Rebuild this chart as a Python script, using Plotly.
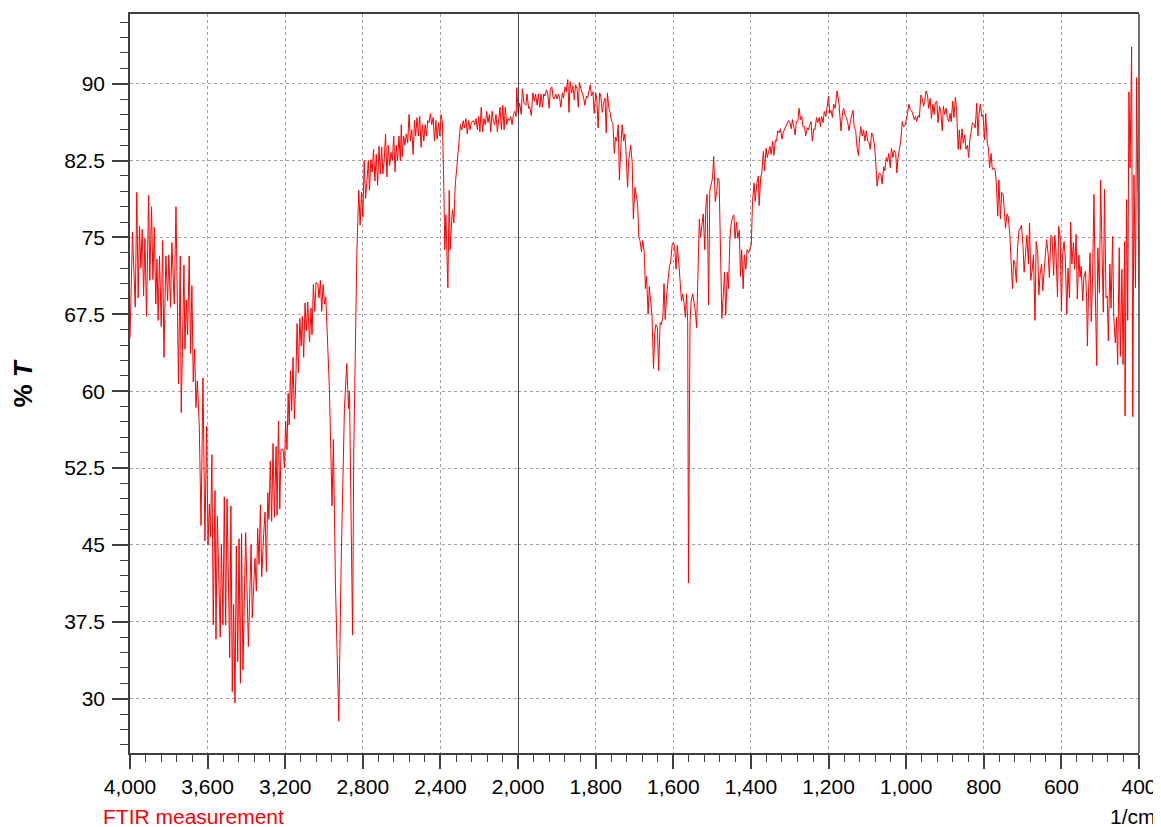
import plotly.graph_objects as go

# ---- FTIR spectrum (wavenumber in 1/cm, %T) ----
wn_oh = [
    4000, 3987, 3973, 3965, 3958, 3951, 3944, 3937, 3930, 3923,
    3915, 3904, 3898, 3889, 3882, 3875, 3867, 3861, 3855, 3848,
    3839, 3832, 3825, 3815, 3806, 3800, 3791, 3784, 3772, 3763,
    3750, 3741, 3736, 3722, 3717, 3710, 3703, 3695, 3688, 3681,
    3674, 3667, 3660, 3653, 3643, 3634, 3624, 3614, 3605, 3598,
    3591, 3585, 3578, 3571, 3562, 3557, 3550, 3535, 3529, 3521,
    3514, 3507, 3500, 3486, 3480, 3473, 3466, 3459, 3452, 3445,
    3438, 3431, 3425, 3418, 3404, 3390, 3376, 3370, 3356, 3349,
    3342, 3335, 3328, 3321, 3311, 3304, 3297, 3290, 3284, 3277,
    3270, 3263, 3256, 3247, 3242, 3235, 3228, 3222, 3211, 3204,
    3198, 3191, 3185, 3180, 3173, 3167, 3160, 3153, 3146, 3139,
    3132, 3125, 3118, 3112, 3105, 3098, 3091, 3084, 3075, 3067,
    3062, 3055, 3048, 3041, 3032, 3026, 3019, 3012, 3005, 2998,
]
t_oh = [
    65.2, 75.5, 68.2, 79.4, 69.1, 76.1, 72.0, 75.8, 69.3, 74.9,
    67.3, 79.1, 70.8, 78.0, 70.9, 76.0, 68.5, 72.9, 66.9, 73.2,
    66.3, 74.7, 63.3, 73.2, 68.8, 73.3, 68.2, 74.5, 68.5, 78.0,
    60.7, 73.2, 57.9, 72.3, 64.1, 68.9, 65.5, 73.2, 63.7, 70.3,
    60.9, 64.1, 58.4, 61.0, 56.6, 46.9, 61.3, 45.4, 56.6, 45.0,
    49.0, 45.8, 53.8, 37.2, 50.3, 35.8, 47.8, 36.0, 45.0, 37.2,
    49.7, 37.2, 49.5, 34.0, 48.8, 30.7, 39.2, 29.6, 44.9, 33.6,
    45.6, 31.5, 46.1, 32.8, 46.2, 35.1, 45.0, 37.9, 43.7, 40.5,
    46.6, 43.1, 48.9, 41.9, 46.1, 48.2, 42.4, 50.1, 47.5, 53.2,
    47.3, 54.9, 47.7, 54.6, 47.9, 57.1, 48.5, 54.3, 54.3, 52.5,
    57.1, 54.3, 59.8, 56.7, 62.0, 58.1, 63.3, 57.3, 60.7, 66.6,
    61.8, 67.1, 64.4, 67.3, 63.3, 68.6, 65.9, 68.7, 64.8, 68.1,
    65.5, 70.4, 67.8, 70.6, 70.5, 69.1, 70.8, 67.8, 70.4, 68.5,
]

wn_ch = [2991, 2972, 2959, 2952, 2941, 2924, 2912, 2895, 2883, 2874,
         2869, 2860, 2853, 2847, 2838, 2831, 2821, 2814, 2807, 2800]
t_ch = [69.2, 60.0, 48.8, 55.3, 40.9, 27.8, 43.1, 58.3, 62.7, 58.3,
        60.0, 45.2, 36.2, 54.0, 67.0, 73.5, 79.6, 76.2, 79.4, 77.0]

wn_mid = [
    2793, 2786, 2779, 2772, 2766, 2759, 2752, 2745, 2738, 2731,
    2724, 2717, 2710, 2703, 2697, 2690, 2683, 2676, 2669, 2662,
    2655, 2648, 2641, 2634, 2628, 2621, 2614, 2607, 2602, 2597,
    2590, 2583, 2576, 2569, 2562, 2555, 2548, 2541, 2534, 2528,
    2521, 2514, 2507, 2500, 2493, 2486, 2479, 2472, 2466, 2459,
    2452, 2445, 2438, 2431, 2424, 2417, 2410, 2403, 2397, 2390,
    2383, 2378, 2372, 2367, 2362, 2355, 2350, 2343, 2338, 2331,
    2324, 2317, 2310, 2303, 2297, 2290, 2283, 2276, 2269, 2262,
    2255, 2248, 2241, 2231, 2224, 2217, 2210, 2203, 2197, 2190,
    2183, 2176, 2169, 2162, 2155, 2148, 2141, 2134, 2128, 2121,
    2114, 2107, 2100, 2093, 2086, 2079, 2072, 2066, 2059, 2052,
    2045, 2038, 2031, 2024, 2017, 2010, 2007,
]
t_mid = [
    82.5, 78.8, 80.5, 82.5, 79.6, 82.6, 81.4, 83.6, 80.5, 83.1,
    80.1, 83.9, 81.2, 83.8, 81.2, 82.5, 85.1, 80.9, 84.0, 82.0,
    83.3, 82.5, 84.9, 81.4, 84.0, 82.5, 84.9, 82.5, 86.0, 82.9,
    84.9, 84.0, 85.1, 84.2, 87.0, 84.4, 85.5, 83.1, 86.4, 84.9,
    86.7, 84.9, 86.8, 83.8, 86.0, 84.4, 86.0, 84.9, 86.4, 86.2,
    87.1, 86.0, 86.7, 84.4, 86.4, 84.6, 86.2, 84.9, 87.0, 86.2,
    80.1, 73.8, 77.2, 73.8, 70.1, 79.6, 73.8, 76.4, 77.7, 76.4,
    80.1, 81.6, 83.3, 85.3, 86.0, 85.5, 86.4, 85.7, 86.6, 85.1,
    86.4, 85.5, 86.2, 86.4, 86.0, 86.6, 85.5, 86.8, 85.3, 87.7,
    85.3, 86.6, 86.0, 87.3, 86.2, 87.0, 85.3, 87.3, 86.4, 86.0,
    87.0, 85.3, 86.6, 87.7, 85.5, 87.9, 85.5, 87.7, 86.0, 86.6,
    86.4, 86.8, 86.0, 87.0, 87.3, 86.8, 89.6,
]

wn_db = [
    2000, 1996, 1992, 1989, 1985, 1980, 1977, 1973, 1970, 1966,
    1962, 1958, 1955, 1951, 1948, 1944, 1941, 1937, 1934, 1931,
    1927, 1924, 1920, 1917, 1913, 1910, 1907, 1903, 1900, 1896,
    1893, 1890, 1886, 1883, 1879, 1876, 1872, 1869, 1866, 1862,
    1859, 1855, 1852, 1848, 1845, 1842, 1838, 1835, 1831, 1828,
    1824, 1821, 1818, 1814, 1811, 1807, 1804, 1800, 1797, 1794,
    1790, 1787, 1783, 1780, 1776, 1773, 1770, 1766, 1763, 1759,
    1756, 1752, 1749, 1746, 1742, 1739, 1735, 1732, 1728, 1725,
    1722, 1718, 1715, 1710, 1706, 1703, 1699, 1696, 1692, 1689,
    1686, 1682, 1679, 1675, 1672, 1669, 1665, 1662, 1658, 1655,
    1651, 1648, 1645, 1641, 1638, 1634, 1631, 1627, 1624, 1621,
    1617, 1614, 1610, 1607, 1603, 1600, 1597, 1593, 1590, 1586,
    1583, 1579, 1576, 1573, 1569, 1566, 1563, 1561, 1557, 1554,
    1550, 1547, 1543, 1540, 1537, 1533, 1530, 1526, 1523, 1519,
    1516, 1513, 1509, 1506, 1502, 1499, 1496, 1492, 1489, 1485,
    1482, 1478, 1475, 1471, 1468, 1465, 1461, 1458, 1454, 1451,
    1448, 1444, 1441, 1437, 1434, 1430, 1427, 1424, 1420, 1417,
    1413, 1410, 1406,
]
t_db = [
    87.2, 88.1, 87.0, 89.5, 88.1, 87.9, 89.0, 87.6, 87.7, 86.9,
    89.1, 88.3, 89.0, 87.9, 89.0, 87.7, 89.0, 87.7, 89.0, 88.8,
    89.4, 89.1, 87.6, 89.5, 89.7, 88.7, 88.5, 89.0, 88.5, 89.0,
    88.6, 87.7, 89.1, 88.6, 89.7, 89.2, 90.4, 87.2, 90.2, 89.1,
    89.8, 88.4, 89.9, 89.5, 87.7, 90.1, 89.5, 89.1, 88.6, 87.9,
    88.8, 88.6, 89.3, 89.9, 88.8, 89.2, 87.1, 89.1, 88.4, 85.7,
    89.1, 88.8, 87.2, 88.1, 88.6, 85.2, 89.1, 87.6, 87.2, 86.3,
    86.2, 83.2, 84.8, 84.4, 86.0, 80.6, 84.1, 86.0, 84.4, 85.1,
    83.4, 79.9, 82.5, 84.0, 82.3, 76.8, 79.9, 79.2, 78.2, 75.0,
    74.7, 73.6, 74.7, 73.6, 70.0, 71.2, 67.5, 70.2, 68.8, 67.4,
    62.2, 65.6, 66.5, 66.2, 62.0, 66.7, 66.5, 67.2, 70.5, 67.0,
    69.5, 70.9, 72.2, 72.6, 74.3, 74.5, 74.2, 71.9, 74.2, 72.6,
    70.9, 68.8, 69.5, 68.8, 67.2, 69.5, 66.7, 41.3, 66.7, 68.8,
    69.5, 68.8, 67.7, 66.2, 72.2, 76.8, 75.0, 76.4, 77.3, 73.8,
    78.2, 79.2, 68.4, 79.6, 80.3, 80.8, 82.9, 78.5, 79.2, 80.8,
    80.6, 74.2, 67.1, 69.5, 71.6, 67.4, 71.6, 70.0, 75.0, 76.3,
    76.9, 77.2, 74.9, 76.5, 74.9, 75.7, 71.2, 73.8, 70.0, 73.3,
    71.9, 73.8, 73.5,
]

wn_fp = [
    1399, 1396, 1392, 1389, 1385, 1381, 1379, 1375, 1372, 1368,
    1365, 1361, 1358, 1355, 1351, 1348, 1344, 1341, 1337, 1334,
    1331, 1327, 1324, 1320, 1317, 1313, 1310, 1307, 1303, 1300,
    1296, 1293, 1290, 1286, 1283, 1279, 1276, 1272, 1269, 1266,
    1262, 1259, 1255, 1252, 1248, 1245, 1242, 1238, 1235, 1231,
    1228, 1224, 1221, 1218, 1214, 1211, 1207, 1204, 1200, 1197,
    1194, 1190, 1187, 1183, 1178, 1173, 1168, 1164, 1161, 1158,
    1154, 1151, 1147, 1144, 1140, 1137, 1134, 1130, 1127, 1123,
    1120, 1117, 1113, 1110, 1106, 1103, 1099, 1096, 1093, 1089,
    1086, 1082, 1079, 1075, 1072, 1069, 1065, 1062, 1058, 1055,
    1051, 1048, 1045, 1041, 1038, 1034, 1031, 1027, 1024, 1021,
    1017, 1014, 1010, 1007, 1003, 1000, 997, 993, 990, 986,
    983, 979, 976, 973, 969, 966, 962, 959, 955, 952,
    949, 945, 942, 938, 935, 931, 928, 925, 921, 918,
    914, 911, 907, 904, 901, 897, 894, 890, 887, 884,
    880, 877, 873, 870, 866, 863, 860, 856, 853, 849,
    846, 842, 839, 836, 832, 829, 825, 822,
]
t_fp = [
    74.3, 78.5, 80.3, 78.5, 80.2, 81.0, 78.1, 80.8, 81.3, 83.4,
    81.5, 83.7, 82.8, 83.4, 83.9, 83.1, 84.4, 83.0, 84.5, 84.4,
    85.4, 85.2, 85.6, 84.6, 85.2, 85.6, 85.9, 86.1, 86.4, 86.3,
    85.6, 86.5, 85.8, 85.0, 86.3, 86.3, 87.6, 86.5, 86.8, 85.8,
    85.8, 84.9, 85.7, 85.5, 86.0, 86.3, 84.4, 85.6, 85.5, 86.7,
    86.2, 86.7, 85.8, 86.8, 86.2, 87.3, 86.8, 87.6, 88.8, 87.1,
    87.4, 86.7, 88.0, 87.6, 89.3, 88.0, 85.4, 87.2, 87.6, 87.0,
    86.7, 86.3, 85.4, 86.3, 86.8, 87.4, 85.8, 85.4, 83.9, 83.0,
    84.7, 85.8, 84.9, 85.5, 84.4, 85.4, 84.4, 84.3, 83.6, 85.2,
    85.0, 84.1, 82.8, 80.0, 80.8, 81.3, 81.1, 80.2, 81.9, 81.5,
    82.8, 82.4, 83.2, 81.8, 83.7, 82.8, 83.5, 83.2, 81.3, 82.8,
    83.7, 84.4, 86.3, 85.8, 85.9, 86.7, 87.0, 88.0, 87.5, 87.4,
    87.0, 86.5, 86.8, 86.3, 86.9, 86.7, 88.9, 88.6, 87.8, 88.3,
    89.3, 88.9, 87.6, 88.6, 86.6, 88.0, 87.0, 88.2, 88.3, 86.2,
    87.8, 87.3, 85.4, 87.8, 87.0, 87.6, 86.7, 86.3, 87.1, 86.3,
    88.3, 86.7, 88.7, 87.3, 83.6, 85.5, 83.6, 85.6, 84.2, 85.0,
    83.6, 84.0, 82.8, 84.5, 85.4, 86.2, 86.0, 85.7,
]

wn_low = [
    818, 815, 812, 809, 805, 802, 798, 795, 791, 788,
    785, 781, 778, 774, 771, 768, 764, 761, 757, 754,
    750, 747, 744, 740, 737, 733, 730, 726, 723, 720,
    716, 713, 709, 706, 703, 699, 696, 692, 689, 685,
    682, 679, 675, 672, 668, 665, 661, 658, 655, 651,
    648, 644, 641, 638, 634, 631, 627, 624, 620, 617,
    614, 610, 607, 603, 600, 597, 593, 590, 586, 583,
    579, 576, 573, 569, 566, 562, 559, 555, 552, 549,
    545, 542, 538, 535, 533, 530, 526, 523, 520, 516,
    513, 509, 506, 502, 499, 496, 492, 489, 485, 482,
    479, 475, 472, 468, 465, 461, 458, 455, 451, 448,
    444, 441, 437, 436, 432, 429, 426, 423, 419, 416,
    413, 409, 406, 403, 400,
]
t_low = [
    88.1, 84.9, 87.1, 88.0, 86.8, 87.0, 84.5, 87.1, 84.2, 83.7,
    81.8, 83.2, 81.6, 81.8, 81.6, 80.5, 77.1, 80.6, 76.8, 79.4,
    79.2, 76.9, 75.9, 77.3, 77.0, 75.3, 72.7, 70.0, 72.8, 72.5,
    70.6, 74.0, 75.8, 75.8, 76.2, 74.2, 71.6, 73.7, 75.2, 72.4,
    76.4, 70.8, 71.9, 73.3, 66.9, 74.6, 73.5, 69.4, 71.4, 72.4,
    69.8, 72.0, 73.3, 74.8, 73.3, 71.1, 75.2, 75.0, 71.3, 75.2,
    73.7, 69.2, 76.1, 75.0, 67.8, 73.2, 74.6, 73.0, 67.5, 72.0,
    69.1, 76.5, 72.4, 74.5, 71.9, 75.3, 69.0, 73.3, 71.1, 72.2,
    68.8, 71.1, 71.7, 69.1, 64.4, 69.8, 73.5, 66.8, 70.4, 79.2,
    70.7, 62.5, 74.0, 69.6, 80.6, 73.7, 67.7, 79.7, 69.1, 69.3,
    64.9, 72.4, 68.1, 75.1, 67.2, 64.7, 67.2, 62.6, 74.0, 63.4,
    71.9, 62.6, 74.6, 57.6, 78.7, 66.9, 89.2, 81.8, 93.6, 57.5,
    81.1, 70.1, 90.6, 79.2, 70.3,
]

left_ticks = [4000, 3600, 3200, 2800, 2400]
y_title = "<b>% <i>T</i></b>"
x_unit = "1/cm"
caption = "FTIR measurement"

wavenumber = wn_oh + wn_ch + wn_mid + wn_db + wn_fp + wn_low
transmittance = t_oh + t_ch + t_mid + t_db + t_fp + t_low

# Split at the scale change (2000 1/cm)
xl = [w for w in wavenumber if w >= 2000]
yl = [t for w, t in zip(wavenumber, transmittance) if w >= 2000]
xr = [w for w in wavenumber if w <= 2000]
yr = [t for w, t in zip(wavenumber, transmittance) if w <= 2000]

FONT = "Liberation Sans, Arial, Helvetica, sans-serif"
AX = "#404040"
BREAK = 0.38465

fig = go.Figure()
line = dict(color="#ff0000", width=1)
fig.add_trace(go.Scatter(x=xl, y=yl, mode="lines", line=line, xaxis="x", yaxis="y",
                         showlegend=False, hoverinfo="skip"))
fig.add_trace(go.Scatter(x=xr, y=yr, mode="lines", line=line, xaxis="x2", yaxis="y",
                         showlegend=False, hoverinfo="skip"))

common = dict(
    showline=True, linecolor=AX, linewidth=1.5,
    ticks="outside", tickcolor=AX, tickwidth=1.5,
    showgrid=True, gridcolor="#a0a0a0", griddash="dot", gridwidth=1,
    zeroline=False,
    tickfont=dict(family=FONT, size=21, color="#000000"),
)

# The page body keeps its default 8 px margin: the figure is 8 px smaller and shifted.
fig.update_layout(
    width=1153, height=819,
    margin=dict(l=122, r=21, t=4, b=74),
    paper_bgcolor="white", plot_bgcolor="white",
    font=dict(family=FONT, color="#000000"),
    xaxis=dict(
        domain=[0, BREAK], range=[4000, 2000], anchor="y", mirror=True,
        tickmode="array", tickvals=left_ticks, tickformat=",d", ticklen=14,
        minor=dict(tick0=2000, dtick=80, ticks="outside", ticklen=7,
                   tickcolor=AX, tickwidth=1.2, showgrid=False),
        **common,
    ),
    xaxis2=dict(
        domain=[BREAK, 1], range=[2000, 400], anchor="y", mirror=True,
        tickmode="linear", tick0=400, dtick=200, tickformat=",d", ticklen=14,
        minor=dict(tick0=400, dtick=40, ticks="outside", ticklen=7,
                   tickcolor=AX, tickwidth=1.2, showgrid=False),
        **common,
    ),
    yaxis=dict(
        range=[24.7, 96.8], anchor="x", mirror=False,
        tickmode="linear", tick0=30, dtick=7.5, ticklen=16, ticklabelstandoff=3,
        minor=dict(tick0=30, dtick=1.5, ticks="outside", ticklen=8,
                   tickcolor=AX, tickwidth=1.2, showgrid=False),
        **common,
    ),
    shapes=[
        dict(type="line", xref="x2", yref="paper", x0=2000, x1=2000, y0=0, y1=1,
             line=dict(color="#000000", width=1.2)),
        dict(type="line", xref="paper", yref="paper", x0=1, x1=1, y0=0, y1=1,
             line=dict(color=AX, width=1.5)),
    ],
    annotations=[
        dict(text=y_title, xref="paper", yref="paper", x=-0.107, y=0.5,
             xanchor="center", yanchor="middle", textangle=-90, showarrow=False,
             font=dict(family=FONT, size=26, color="#000000")),
        dict(text=caption, xref="paper", yref="paper", x=-0.0277, y=-0.086,
             xanchor="left", yanchor="middle", showarrow=False, borderpad=0,
             font=dict(family=FONT, size=21, color="#ff0000")),
        dict(text=x_unit, xref="paper", yref="paper", x=1.0178, y=-0.086,
             xanchor="right", yanchor="middle", showarrow=False, borderpad=0,
             font=dict(family=FONT, size=21, color="#000000")),
    ],
)

fig.write_html(
    "out.html",
    config={"displayModeBar": False},
    post_script="document.documentElement.style.overflow='hidden';",
)
